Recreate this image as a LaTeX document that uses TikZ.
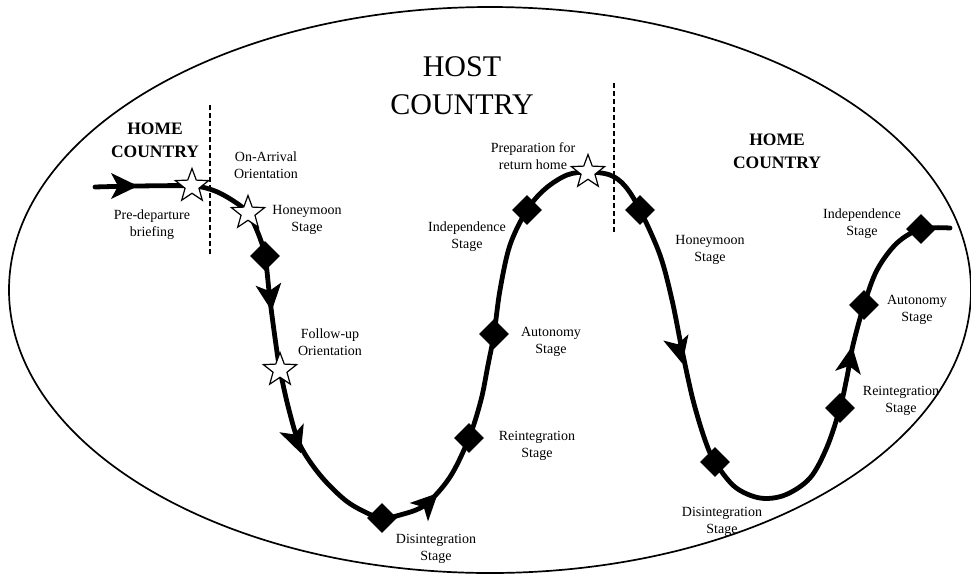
\documentclass[tikz,border=0pt]{standalone}
\usepackage{fontspec}
\setmainfont{Liberation Serif}
\usetikzlibrary{shapes.geometric}
\newcommand\arrowmk[2]{\fill[shift={#1}, rotate=#2] (14,0) -- (-13,13) -- (-6,0) -- (-13,-13) -- cycle;}
\begin{document}
\begin{tikzpicture}[x=1pt,y=-1pt,
  starmk/.style={star, star points=5, star point ratio=2.4, minimum size=35pt, inner sep=0pt, draw, fill=white, line width=1.2pt},
  diamk/.style={diamond, fill=black, minimum size=30pt, inner sep=0pt},
  lab/.style={align=center, font=\fontsize{14}{17}\selectfont, inner sep=0pt},
  homelab/.style={align=center, font=\fontsize{17.5}{23}\selectfont\bfseries, inner sep=0pt},
  hostlab/.style={align=center, font=\fontsize{30}{38}\selectfont, inner sep=0pt},
  divider/.style={line width=1.3pt, dash pattern=on 5pt off 3pt},
  journey/.style={line width=4.8pt, line join=round, line cap=round}]
\useasboundingbox (0,0) rectangle (971,579);
\fill[white] (0,0) rectangle (971,579);
% outer ellipse
\draw[line width=1.7pt] (490,290) ellipse [x radius=481, y radius=283];
% dividers
\draw[divider] (210,105) -- (210,255);
\draw[divider] (614,83) -- (614,233);
% marker positions
\coordinate (start) at (95,187);
\coordinate (p1) at (192,186);
\coordinate (p2) at (248,213);
\coordinate (q1) at (265,256);
\coordinate (p3) at (280,370);
\coordinate (q2) at (382,518);
\coordinate (q3) at (469,438);
\coordinate (q4) at (494,334);
\coordinate (q5) at (527,210);
\coordinate (p4) at (588,172);
\coordinate (q6) at (640,210);
\coordinate (q7) at (715,462);
\coordinate (q8) at (840,408);
\coordinate (q9) at (864,305);
\coordinate (q10) at (921,229);
\coordinate (finish) at (950,228);
% journey curve
\draw[journey] plot[smooth, tension=0.55] coordinates {
  (start) (137,186) (p1) (215,191) (235,202) (p2) (258,233) (q1)
  (270,300) (276,345) (p3) (289,410) (300,445) (320,475) (345,500) (367,513) (q2)
  (400,515) (425,505) (450,477) (q3) (481,400) (488,365) (q4) (500,290) (510,245) (q5)
  (545,189) (567,175) (p4) (610,175) (625,186) (q6) (660,255) (672,300) (682,350)
  (693,400) (705,440) (q7) (735,487) (760,498) (785,495) (810,478) (827,447) (q8)
  (847,377) (853,345) (q9) (877,270) (897,243) (q10) (finish)};
% arrowheads
\arrowmk{(124,186)}{0}
\arrowmk{(270,297)}{-83}
\arrowmk{(296,440)}{-70}
\arrowmk{(428,503)}{45}
\arrowmk{(679,350)}{-76}
\arrowmk{(850,360)}{81}
% markers
\node[starmk] (s1) at (p1) {};
\node[starmk] (s2) at (p2) {};
\node[starmk] (s3) at (p3) {};
\node[starmk] (s4) at (p4) {};
\node[diamk] (d1) at (q1) {};
\node[diamk] (d2) at (q2) {};
\node[diamk] (d3) at (q3) {};
\node[diamk] (d4) at (q4) {};
\node[diamk] (d5) at (q5) {};
\node[diamk] (d6) at (q6) {};
\node[diamk] (d7) at (q7) {};
\node[diamk] (d8) at (q8) {};
\node[diamk] (d9) at (q9) {};
\node[diamk] (d10) at (q10) {};
% region titles
\node[hostlab] (host) at (462,86) {HOST\\COUNTRY};
\node[homelab] (home1) at (155,140) {HOME\\COUNTRY};
\node[homelab] (home2) at (777,151) {HOME\\COUNTRY};
% labels
\node[lab] (lpre) at (152,225) {Pre-departure\\briefing};
\node[lab] (larr) at (266,165) {On-Arrival\\Orientation};
\node[lab] (lhon1) at (307,220) {Honeymoon\\Stage};
\node[lab] (lfol) at (330,342) {Follow-up\\Orientation};
\node[lab] (ldis1) at (436,549) {Disintegration\\Stage};
\node[lab] (lrei1) at (537,446) {Reintegration\\Stage};
\node[lab] (laut1) at (551,342) {Autonomy\\Stage};
\node[lab] (lind1) at (467,237) {Independence\\Stage};
\node[lab] (lprep) at (533,156) {Preparation for\\return home};
\node[lab] (lhon2) at (710,250) {Honeymoon\\Stage};
\node[lab] (ldis2) at (722,522) {Disintegration\\Stage};
\node[lab] (lrei2) at (901,401) {Reintegration\\Stage};
\node[lab] (laut2) at (917,310) {Autonomy\\Stage};
\node[lab] (lind2) at (862,224) {Independence\\Stage};
\end{tikzpicture}
\end{document}
